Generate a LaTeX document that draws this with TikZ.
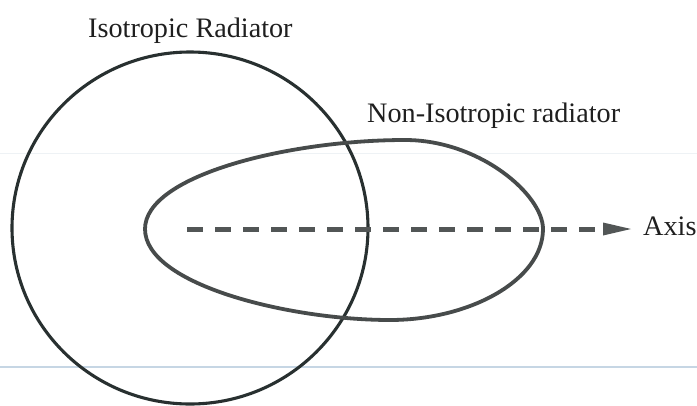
\documentclass[tikz,border=0pt]{standalone}
\usepackage{fontspec}
\setmainfont{Liberation Serif}
\usetikzlibrary{arrows.meta,calc}
\definecolor{circlecol}{HTML}{283030}
\definecolor{eggcol}{HTML}{474B4B}
\definecolor{axiscol}{HTML}{525656}
\definecolor{scanline}{HTML}{C6D6E4}
\definecolor{scanfaint}{HTML}{EEF2F5}
\tikzset{
  lbl/.style={inner sep=0pt, anchor=base west, font=\fontsize{28.2}{31}\selectfont, text=black!88},
  isocurve/.style={draw=circlecol, line width=3.1pt},
  eggcurve/.style={draw=eggcol, line width=3.8pt},
  axisline/.style={draw=axiscol, line width=5pt, dash pattern=on 16pt off 12pt},
  axishead/.style={fill=axiscol, draw=none}
}
\begin{document}
\begin{tikzpicture}[x=1pt,y=-1pt]
\useasboundingbox[fill=white] (0,0) rectangle (697,405);
% faint scan lines
\draw[scanfaint, line width=1pt] (0,153) -- (697,153);
\draw[scanline, line width=1.2pt] (0,367) -- (697,367);
% isotropic radiator
\draw[isocurve] (190,228) ellipse [x radius=178, y radius=176];
% non-isotropic radiator
\draw[eggcurve] (145,229) .. controls (145,175) and (290,140) .. (405,140)
  .. controls (480,140) and (543,195) .. (543,229)
  .. controls (543,280) and (470,320) .. (390,320)
  .. controls (290,320) and (145,285) .. (145,229) -- cycle;
% axis
\coordinate (axstart) at (187,229);
\coordinate (axmid) at (603,229);
\coordinate (axtip) at (631,229);
\draw[axisline] (axstart) -- (axmid);
\fill[axishead] (axtip) -- ($(axmid)+(0,-6.5)$) -- ($(axmid)+(0,6.5)$) -- cycle;
% labels
\node[lbl] (iso) at (88,37) {Isotropic Radiator};
\node[lbl] (noniso) at (367,122) {Non-Isotropic radiator};
\node[lbl] (axis) at (643,235) {Axis};
\end{tikzpicture}
\end{document}
